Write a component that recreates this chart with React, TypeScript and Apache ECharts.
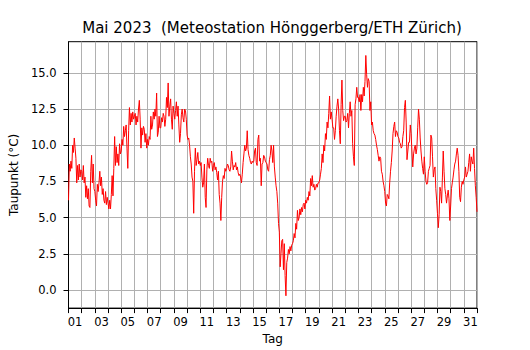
import React, { useEffect, useRef } from "react";
import * as echarts from "echarts";

// Dew point (°C), 16 readings per day of May 2023 (every 1.5 h)
const d01 = [6.2, 8.7, 8.2, 8.9, 8.4, 10.0, 9.5, 10.5, 9.8, 9.1, 7.4, 8.6, 7.6, 8.7, 7.8, 8.3];
const d02 = [8.2, 7.6, 8.6, 7.4, 7.8, 6.4, 7.2, 6.3, 7.0, 5.8, 5.7, 8.2, 9.3, 7.4, 8.7, 7.0];
const d03 = [6.8, 6.2, 5.8, 7.3, 6.8, 7.4, 8.2, 7.2, 7.8, 6.6, 7.0, 6.2, 6.0, 6.8, 5.9, 6.4];
const d04 = [6.0, 5.6, 6.2, 5.6, 6.6, 7.9, 6.5, 8.4, 10.6, 8.6, 9.9, 8.8, 9.4, 8.6, 10.1, 9.4];
const d05 = [9.6, 10.4, 10.0, 11.3, 10.6, 11.0, 11.4, 9.8, 8.4, 11.0, 12.6, 11.4, 12.2, 11.6, 12.3, 11.8];
const d06 = [12.0, 12.2, 11.4, 12.0, 11.6, 12.5, 13.1, 11.8, 9.8, 11.2, 10.7, 11.3, 11.1, 10.2, 10.8, 9.8];
const d07 = [10.4, 10.0, 10.6, 10.4, 12.0, 11.1, 11.4, 12.3, 11.8, 12.5, 12.0, 13.6, 10.6, 10.9, 12.0, 11.2];
const d08 = [11.2, 11.9, 11.6, 12.2, 12.0, 11.3, 11.8, 13.3, 12.6, 14.3, 12.0, 12.7, 13.2, 11.8, 11.1, 12.7];
const d09 = [12.2, 11.8, 12.4, 13.0, 12.0, 12.7, 11.4, 10.2, 10.8, 12.1, 12.5, 11.9, 11.6, 12.5, 12.4, 11.8];
const d10 = [10.7, 10.4, 10.5, 10.0, 9.2, 8.7, 7.8, 7.5, 5.3, 8.2, 9.8, 8.6, 9.0, 9.5, 8.7, 8.9];
const d11 = [8.6, 8.8, 7.8, 7.1, 7.4, 8.7, 6.4, 5.7, 8.3, 9.1, 8.6, 8.4, 9.1, 8.8, 8.9, 8.2];
const d12 = [8.6, 8.8, 8.3, 8.5, 8.1, 7.6, 8.2, 6.6, 6.0, 4.8, 6.4, 7.5, 7.9, 7.7, 8.4, 8.2];
const d13 = [8.4, 8.7, 8.6, 8.3, 8.2, 8.5, 9.6, 8.9, 8.3, 8.6, 8.5, 8.8, 8.3, 8.5, 8.1, 7.9];
const d14 = [8.0, 7.8, 7.4, 8.0, 8.8, 9.4, 10.0, 9.6, 9.8, 11.0, 9.7, 9.3, 9.1, 8.8, 8.7, 8.9];
const d15 = [8.8, 8.9, 9.6, 9.8, 8.8, 8.6, 10.4, 10.7, 8.9, 9.1, 7.2, 8.7, 8.8, 9.3, 9.2, 8.9];
const d16 = [8.8, 8.7, 8.3, 8.2, 9.0, 9.3, 10.0, 9.6, 8.8, 10.0, 8.5, 7.8, 7.2, 6.8, 6.0, 4.6];
const d17 = [4.0, 1.6, 2.5, 3.4, 3.5, 1.4, 3.2, 1.0, -0.4, 1.9, 2.2, 2.8, 2.5, 3.0, 2.7, 3.1];
const d18 = [3.2, 3.4, 3.9, 3.6, 4.6, 4.2, 5.5, 4.8, 5.0, 5.6, 5.2, 5.7, 5.4, 5.9, 6.0, 5.6];
const d19 = [6.2, 6.0, 6.4, 6.2, 6.8, 6.5, 7.7, 7.2, 7.9, 7.1, 7.3, 6.9, 7.0, 7.3, 7.1, 7.4];
const d20 = [7.4, 7.6, 8.0, 8.4, 9.4, 8.8, 10.0, 9.6, 10.8, 10.4, 11.6, 11.2, 12.2, 13.4, 11.8, 12.3];
const d21 = [11.8, 11.2, 11.2, 10.4, 11.0, 12.0, 12.7, 13.2, 12.5, 11.0, 10.1, 12.8, 14.5, 12.4, 11.7, 12.0];
const d22 = [12.0, 11.6, 11.7, 12.2, 11.2, 12.2, 13.0, 12.0, 12.4, 10.1, 9.2, 8.6, 12.8, 13.2, 14.0, 13.3];
const d23 = [13.3, 13.0, 13.5, 12.4, 13.5, 13.0, 14.0, 13.4, 14.4, 16.2, 14.9, 14.0, 14.6, 14.4, 12.4, 13.0];
const d24 = [11.4, 11.6, 11.0, 10.8, 10.7, 10.4, 10.0, 9.7, 9.3, 8.9, 9.2, 9.1, 8.2, 8.0, 7.5, 7.2];
const d25 = [6.8, 6.0, 5.8, 6.6, 6.5, 6.3, 7.4, 8.2, 8.8, 9.6, 10.8, 11.3, 11.6, 10.6, 11.0, 10.9];
const d26 = [10.6, 10.5, 10.2, 10.1, 9.8, 9.9, 10.6, 11.0, 12.6, 13.1, 11.6, 9.0, 9.6, 10.2, 10.2, 11.4];
const d27 = [10.8, 9.6, 8.5, 9.4, 9.8, 10.0, 9.4, 9.8, 11.2, 12.5, 11.8, 10.5, 9.6, 8.9, 8.4, 8.0];
const d28 = [9.2, 8.2, 7.5, 7.3, 7.4, 8.2, 8.4, 8.6, 10.7, 10.5, 9.2, 7.8, 8.3, 8.5, 7.0, 6.2];
const d29 = [5.3, 4.3, 5.2, 7.1, 6.8, 6.0, 7.8, 9.6, 8.2, 7.0, 6.6, 6.0, 6.5, 6.9, 6.3, 4.8];
const d30 = [5.8, 7.0, 7.4, 7.8, 8.3, 8.7, 8.9, 9.4, 9.8, 9.3, 8.2, 6.4, 6.1, 7.1, 7.5, 7.3];
const d31 = [7.6, 7.8, 8.5, 7.8, 8.0, 8.2, 8.8, 9.4, 8.2, 9.2, 8.9, 8.7, 9.8, 8.4, 7.2, 6.4];
const endValue = 5.4; // 1 June 00:00

const days = [
  d01, d02, d03, d04, d05, d06, d07, d08, d09, d10, d11, d12, d13, d14, d15, d16,
  d17, d18, d19, d20, d21, d22, d23, d24, d25, d26, d27, d28, d29, d30, d31,
];

const dayLabels = days.map((_, i) => String(i + 1).padStart(2, "0"));
const yTickValues = [0, 2.5, 5, 7.5, 10, 12.5, 15];

const TITLE = "Mai 2023  (Meteostation Hönggerberg/ETH Zürich)";
const FONT = "DejaVu Sans";

export default function App() {
  const ref = useRef<HTMLDivElement>(null);

  useEffect(() => {
    if (!ref.current) return;
    const chart = echarts.init(ref.current, null, { renderer: "svg" });

    const seriesData: number[][] = [];
    days.forEach((vals, d) => {
      vals.forEach((v, k) => seriesData.push([d + k / vals.length, v]));
    });
    seriesData.push([days.length, endValue]);

    const grid = "#b0b0b0";

    chart.setOption({
      animation: false,
      backgroundColor: "#ffffff",
      title: {
        text: TITLE,
        left: 267,
        top: 15,
        textAlign: "center",
        textStyle: { fontFamily: FONT, fontSize: 15, fontWeight: "normal", color: "#000" },
      },
      grid: {
        left: 67.5,
        right: 53,
        top: 41.7,
        bottom: 37.3,
        show: true,
        borderColor: "#000",
        borderWidth: 1,
        backgroundColor: "transparent",
      },
      xAxis: [
        { type: "value", min: 0, max: days.length, show: false },
        {
          type: "category",
          data: dayLabels,
          boundaryGap: true,
          position: "bottom",
          name: "Tag",
          nameLocation: "middle",
          nameGap: 24,
          nameTextStyle: { fontFamily: FONT, fontSize: 12, color: "#000" },
          axisLine: { show: true, lineStyle: { color: "#000", width: 1 } },
          axisTick: { show: true, interval: 0, length: 5, lineStyle: { color: "#000" } },
          axisLabel: { interval: 1, margin: 8, fontFamily: FONT, fontSize: 11.5, color: "#000" },
          splitLine: { show: true, interval: 0, lineStyle: { color: grid, width: 1 } },
        },
      ],
      yAxis: {
        type: "value",
        min: -1.25,
        max: 17.15,
        minInterval: 2.5,
        maxInterval: 2.5,
        splitNumber: 7,
        name: "Taupunkt (°C)",
        nameLocation: "middle",
        nameGap: 47,
        nameRotate: 90,
        nameTextStyle: { fontFamily: FONT, fontSize: 12, color: "#000" },
        axisLine: { show: true, lineStyle: { color: "#000", width: 1 } },
        axisTick: { show: true, length: 5, lineStyle: { color: "#000" }, customValues: yTickValues },
        axisLabel: {
          formatter: (v: number) => v.toFixed(1),
          showMinLabel: false,
          showMaxLabel: false,
          margin: 12,
          fontFamily: FONT,
          fontSize: 11.5,
          color: "#000",
        },
        splitLine: { show: true, lineStyle: { color: grid, width: 1 } },
      },
      series: [
        {
          type: "line",
          xAxisIndex: 0,
          data: seriesData,
          symbol: "none",
          showSymbol: false,
          lineStyle: { color: "#ff0000", width: 1 },
          itemStyle: { color: "#ff0000" },
        },
      ],
    });

    return () => chart.dispose();
  }, []);

  return (
    <div
      ref={ref}
      style={{ position: "fixed", left: 0, top: 0, width: 530, height: 350 }}
    />
  );
}
